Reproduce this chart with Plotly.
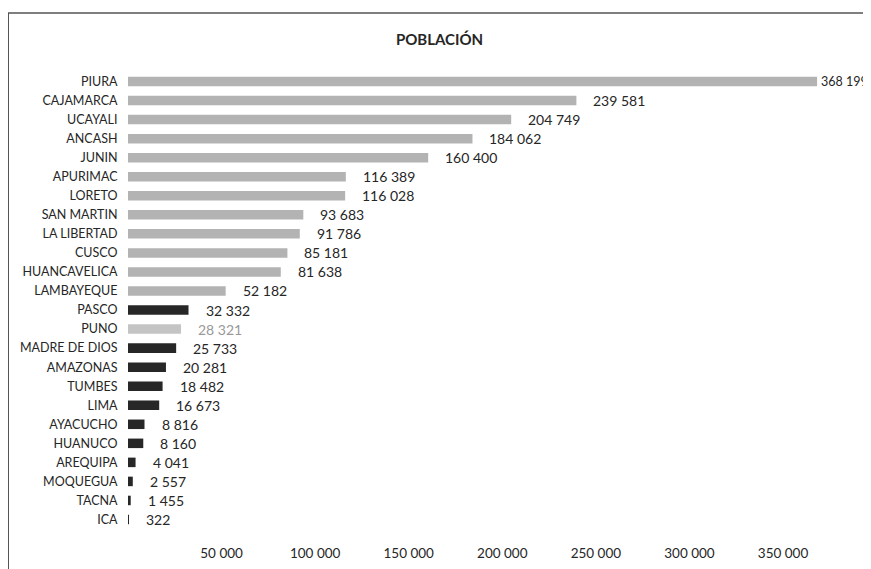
import plotly.graph_objects as go

regions = ["PIURA", "CAJAMARCA", "UCAYALI", "ANCASH", "JUNIN", "APURIMAC", "LORETO",
           "SAN MARTIN", "LA LIBERTAD", "CUSCO", "HUANCAVELICA", "LAMBAYEQUE", "PASCO",
           "PUNO", "MADRE DE DIOS", "AMAZONAS", "TUMBES", "LIMA", "AYACUCHO", "HUANUCO",
           "AREQUIPA", "MOQUEGUA", "TACNA", "ICA"]
poblacion = [368199, 239581, 204749, 184062, 160400, 116389, 116028, 93683, 91786,
             85181, 81638, 52182, 32332, 28321, 25733, 20281, 18482, 16673, 8816, 8160,
             4041, 2557, 1455, 322]
grupo = ["g"] * 12 + ["d", "g"] + ["d"] * 10
tick_vals = [50000, 100000, 150000, 200000, 250000, 300000, 350000]
tick_text = ["50 000", "100 000", "150 000", "200 000", "250 000", "300 000", "350 000"]

GRAY = "#b3b3b3"
DARK = "#272727"
FONT = "Lato, 'Open Sans', sans-serif"

def fmt(v):
    return f"{v:,}".replace(",", " ")

colors = [GRAY if g == "g" else DARK for g in grupo]
lbl_colors = ["#999999" if r == "PUNO" else "#262626" for r in regions]
bar_colors = ["#c4c4c4" if r == "PUNO" else c for r, c in zip(regions, colors)]

# the page body adds an 8px offset; size the figure to fit the window
W, H = 863, 561
L, T, B = 120, 64, 39
PW, PH = W - L, H - T - B

fig = go.Figure(go.Bar(
    x=poblacion, y=regions, orientation="h",
    marker=dict(color=bar_colors, line=dict(width=0)),
    width=0.5, hoverinfo="skip",
))

XMAX = 397000
for r, v, c in zip(regions, poblacion, lbl_colors):
    near_edge = v > 0.9 * XMAX
    fig.add_annotation(x=v, y=r, text=fmt(v), showarrow=False, xanchor="left",
                       xshift=2 if near_edge else 15,
                       font=dict(family=FONT, size=12.5 if near_edge else 14, color=c))

fig.update_layout(
    width=W, height=H,
    margin=dict(l=L, r=0, t=T, b=B),
    paper_bgcolor="white", plot_bgcolor="white",
    showlegend=False,
    title=dict(text="<b>POBLACIÓN</b>", x=0.5, xref="container", xanchor="center",
               y=1 - 32 / H, yanchor="middle",
               font=dict(family=FONT, size=15, color="#262626")),
    xaxis=dict(range=[0, XMAX], tickvals=tick_vals, ticktext=tick_text,
               showgrid=False, zeroline=False, showline=False,
               ticks="outside", ticklen=11, tickcolor="rgba(0,0,0,0)",
               tickfont=dict(family=FONT, size=13.5, color="#262626")),
    yaxis=dict(autorange="reversed", showgrid=False, zeroline=False, showline=False,
               ticks="outside", ticklen=7, tickcolor="rgba(0,0,0,0)",
               tickfont=dict(family=FONT, size=12.5, color="#262626")),
)

# chart frame (left and top edges of the chart border)
top_y = 1 + (T - 5) / PH
left_x = -L / PW
fig.add_shape(type="line", xref="paper", yref="paper",
              x0=left_x, x1=left_x, y0=top_y, y1=-(B / PH),
              line=dict(color="#555555", width=2))
fig.add_shape(type="line", xref="paper", yref="paper",
              x0=left_x, x1=1, y0=top_y, y1=top_y,
              line=dict(color="#555555", width=1.5))

fig.write_html("out.html")
